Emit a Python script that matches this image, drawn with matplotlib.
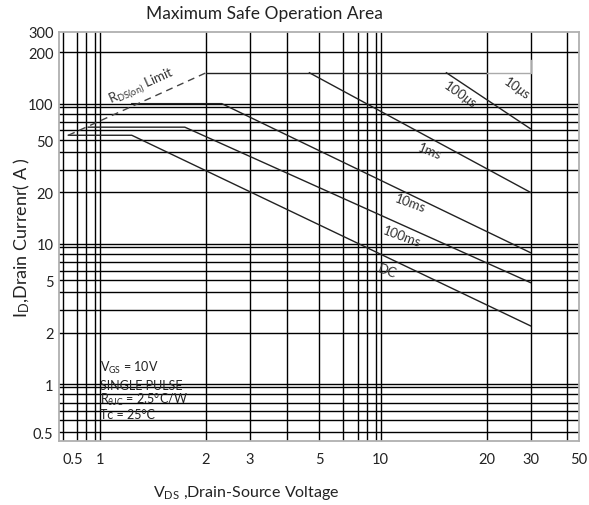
import numpy as np
import matplotlib.pyplot as plt

plt.rcParams['font.family'] = ['Lato', 'DejaVu Sans']
plt.rcParams['mathtext.fontset'] = 'custom'
plt.rcParams['mathtext.rm'] = 'Lato'
plt.rcParams['mathtext.it'] = 'Lato:italic'

# --- data (V, A) ---
dc_v = [0.64, 1.30, 30]
dc_a = [55, 55, 2.3]
ms100_v = [0.82, 1.80, 30]
ms100_a = [64, 64, 4.8]
ms10_v = [1.30, 2.36, 30]
ms10_a = [100, 100, 8.2]
ms1_v = [4.7, 30]
ms1_a = [160, 20]
us100_v = [16.2, 30]
us100_a = [160, 62]
top_v = [2.0, 20]
top_a = [160, 160]
us10_v = [20, 30, 30]
us10_a = [160, 160, 185]
limit_v = [0.64, 2.0]
limit_a = [55, 160]

# grid lines and tick labels of the printed chart
x_grid = [0.6, 0.7, 0.8, 0.9, 1, 2, 3, 4, 5, 6, 7, 8, 9, 10, 20, 30, 40]
y_grid = [0.4, 0.5, 0.6, 0.7, 0.8, 0.9, 1, 2, 3, 4, 5, 6, 7, 8, 9,
          10, 20, 30, 40, 50, 60, 70, 80, 90, 100, 200]
x_tick_at = [0.674, 1, 2, 3, 5, 10, 20, 30, 43.4]
x_tick_lbl = ['0.5', '1', '2', '3', '5', '10', '20', '30', '50']
y_tick_at = [290, 200, 100, 50, 20, 10, 5, 2, 1, 0.4]
y_tick_lbl = ['300', '200', '100', '50', '20', '10', '5', '2', '1', '0.5']

# the printed log paper is not a true log scale: position of 1..10 inside a decade
x_frac = [0, 0.378, 0.534, 0.665, 0.781, 0.867, 0.918, 0.952, 0.982, 1]
y_frac = [0, 0.367, 0.527, 0.657, 0.740, 0.809, 0.867, 0.927, 0.977, 1]
mant = np.arange(1, 11)


def make_scale(frac):
    def fwd(v):
        v = np.clip(np.asarray(v, float), 1e-9, None)
        lv = np.log10(v)
        d = np.floor(lv + 1e-12)
        m = np.clip(10 ** (lv - d), 1, 10)
        return d + np.interp(m, mant, frac)

    def inv(u):
        u = np.asarray(u, float)
        d = np.floor(u)
        return 10 ** d * np.interp(u - d, frac, mant)
    return fwd, inv


fig = plt.figure(figsize=(5.89, 5.06), dpi=100)
ax = fig.add_axes([59 / 589, 1 - 441.7 / 506, 520 / 589, 408.7 / 506])
ax.set_xscale('function', functions=make_scale(x_frac))
ax.set_yscale('function', functions=make_scale(y_frac))
ax.set_xlim(0.585, 43.6)
ax.set_ylim(0.353, 290)

# grid lines drawn as minor ticks, labels as major ticks (they don't line up)
ax.xaxis.remove_overlapping_locs = False
ax.yaxis.remove_overlapping_locs = False
ax.set_xticks(x_grid, minor=True)
ax.set_yticks(y_grid, minor=True)
ax.set_xticks(x_tick_at, x_tick_lbl)
ax.set_yticks(y_tick_at, y_tick_lbl)
ax.tick_params(which='both', length=0)
ax.tick_params(axis='x', which='major', pad=8, labelsize=10.5, labelcolor='#222222')
ax.tick_params(axis='y', which='major', pad=4, labelsize=10.5, labelcolor='#222222')
ax.tick_params(which='minor', labelbottom=False, labelleft=False)
ax.grid(True, which='minor', color='black', lw=1.0)
ax.grid(False, which='major')
for s in ax.spines.values():
    s.set_color('#b0b0b0')
    s.set_linewidth(1.3)

kw = dict(color='#222222', lw=1.0)
ax.plot(dc_v, dc_a, **kw)
ax.plot(ms100_v, ms100_a, **kw)
ax.plot(ms10_v, ms10_a, **kw)
ax.plot(ms1_v, ms1_a, **kw)
ax.plot(us100_v, us100_a, **kw)
ax.plot(top_v, top_a, **kw)
ax.plot(us10_v, us10_a, color='#aaaaaa', lw=1.0)
ax.plot(limit_v, limit_a, color='#444444', lw=1.0, dashes=(5, 3.6))

lab = dict(fontsize=9.5, color='#333333', ha='center', va='center')
ax.text(1.39, 134, r'R$_\mathrm{DS(on)}$ Limit', rotation=24, **lab)
ax.text(14.6, 41, '1ms', rotation=-22, **lab)
ax.text(12.8, 18, '10ms', rotation=-20, **lab)
ax.text(12.0, 11.6, '100ms', rotation=-20, **lab)
ax.text(10.6, 6.0, 'DC', rotation=-20, **lab)
ax.text(17.5, 120, r'100$\mu$s', rotation=-35, **lab)
ax.text(26.8, 132, r'10$\mu$s', rotation=-35, **lab)

box = dict(fontsize=9, color='#222222', ha='left', va='center', transform=ax.transAxes)
ax.text(0.079, 0.180, r'V$_\mathrm{GS}$ = 10V', **box)
ax.text(0.079, 0.136, 'SINGLE PULSE', **box)
ax.text(0.079, 0.102, r'R$_{\theta\mathrm{JC}}$ = 2.5°C/W', **box)
ax.text(0.079, 0.065, 'Tc = 25°C', **box)

fig.text(264 / 589, 1 - 14 / 506, 'Maximum Safe Operation Area', fontsize=12.5,
         ha='center', va='center', color='#222222')
fig.text(22 / 589, 1 - 238 / 506, r'I$_\mathrm{D}$,Drain Currenr( A )', fontsize=13,
         rotation=90, ha='center', va='center', color='#222222')
fig.text(246 / 589, 1 - 493 / 506, r'V$_\mathrm{DS}$ ,Drain-Source Voltage', fontsize=11.5,
         ha='center', va='center', color='#222222')

fig.savefig('out.png', dpi=100)
